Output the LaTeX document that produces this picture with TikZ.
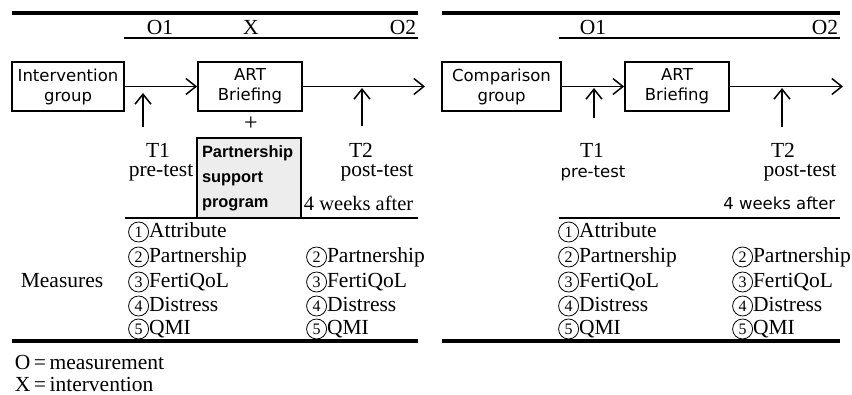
\documentclass[tikz,border=0pt]{standalone}
\usepackage{fontspec}
\setmainfont{Liberation Serif}
\setsansfont{DejaVu Sans}
\newfontfamily\boldsans{Liberation Sans}
\usetikzlibrary{arrows.meta}
\newcommand{\cnum}[1]{\tikz[baseline=(cnumNode.base)]\node[draw, circle, line width=.8pt, inner sep=0pt, minimum size=20pt, font=\fontsize{16}{16}\selectfont] (cnumNode) {#1};}
\begin{document}
\begin{tikzpicture}[x=1pt, y=-1pt, line width=1.5pt,
	every node/.style={inner sep=0pt},
	serifText/.style={font=\fontsize{21.5}{24}\selectfont},
	sansText/.style={font=\sffamily\fontsize{16.5}{20}\selectfont},
	groupBox/.style={draw, line width=1.8pt, minimum height=49pt, align=center, font=\sffamily\fontsize{16.5}{20}\selectfont},
	item/.style={anchor=west, font=\fontsize{21.5}{24}\selectfont},
	thickRule/.style={line width=4pt},
	thinRule/.style={line width=1.7pt},
	flow/.style={-{Straight Barb[length=10pt,width=16pt]}, line width=1.5pt}]
	\useasboundingbox (0,0) rectangle (852,395);
	% intervention group
	\draw[thickRule] (12,13) -- (418,13);
	\draw[thinRule] (124,38) -- (418,38);
	\node[serifText] (oneA) at (160,27) {O1};
	\node[serifText] (xA) at (251,27) {X};
	\node[serifText] (twoA) at (403,27) {O2};
	\node[groupBox, minimum width=112pt] (interv) at (68,86.5) {Intervention\\group};
	\node[groupBox, minimum width=104pt] (artA) at (250,86.5) {ART\\Briefing};
	\coordinate (outA) at (425,86.5);
	\draw[flow] (interv.east) -- (artA.west);
	\draw[flow] (artA.east) -- (outA);
	\coordinate (tOneA) at (143,127);
	\coordinate (tOneTipA) at (143,93);
	\coordinate (tTwoA) at (362,126);
	\coordinate (tTwoTipA) at (362,88);
	\draw[flow] (tOneA) -- (tOneTipA);
	\draw[flow] (tTwoA) -- (tTwoTipA);
	\node[font=\fontsize{24}{24}\selectfont] (plusA) at (251,124) {+};
	\node[draw, line width=1.8pt, fill=black!7, minimum height=80pt, text width=94pt, inner xsep=5pt, align=left, font=\boldsans\bfseries\fontsize{16.4}{25}\selectfont] (support) at (249,178) {Partnership\\support\\program};
	\node[serifText] (tOneTextA) at (158,150) {T1};
	\node[serifText] (preA) at (161,173) {pre-test};
	\node[serifText] (tTwoTextA) at (361,150) {T2};
	\node[serifText] (postA) at (377,173) {post-test};
	\node[font=\fontsize{20.5}{24}\selectfont, anchor=east] (weeksA) at (414,203) {4 weeks after};
	\draw[thinRule] (125,218) -- (418,218);
	\node[serifText] (measures) at (62,281) {Measures};
	\node[item] (attrA) at (128,232) {\cnum{1}Attribute};
	\node[item] (partA) at (128,257) {\cnum{2}Partnership};
	\node[item] (fertA) at (128,282) {\cnum{3}FertiQoL};
	\node[item] (distA) at (128,306) {\cnum{4}Distress};
	\node[item] (qmiA) at (128,329) {\cnum{5}QMI};
	\node[item] (partB) at (306,257) {\cnum{2}Partnership};
	\node[item] (fertB) at (306,282) {\cnum{3}FertiQoL};
	\node[item] (distB) at (306,306) {\cnum{4}Distress};
	\node[item] (qmiB) at (306,329) {\cnum{5}QMI};
	\draw[thickRule] (12,341) -- (418,341);
	\node[item] (legendO) at (14,362) {O\,=\,measurement};
	\node[item] (legendX) at (14,384) {X\,=\,intervention};
	% comparison group
	\draw[thickRule] (442,13) -- (840,13);
	\draw[thinRule] (559,38) -- (840,38);
	\node[serifText] (oneB) at (593,27) {O1};
	\node[serifText] (twoB) at (825,27) {O2};
	\node[groupBox, minimum width=119pt] (compar) at (501.5,86.5) {Comparison\\group};
	\node[groupBox, minimum width=104pt] (artB) at (677,86.5) {ART\\Briefing};
	\coordinate (outB) at (843,86.5);
	\draw[flow] (compar.east) -- (artB.west);
	\draw[flow] (artB.east) -- (outB);
	\coordinate (tOneB) at (594,118);
	\coordinate (tOneTipB) at (594,88);
	\coordinate (tTwoB) at (782,127);
	\coordinate (tTwoTipB) at (782,88);
	\draw[flow] (tOneB) -- (tOneTipB);
	\draw[flow] (tTwoB) -- (tTwoTipB);
	\node[serifText] (tOneTextB) at (592,150) {T1};
	\node[sansText] (preB) at (593,173) {pre-test};
	\node[serifText] (tTwoTextB) at (783,150) {T2};
	\node[serifText] (postB) at (800,173) {post-test};
	\node[sansText, anchor=east] (weeksB) at (836,203) {4 weeks after};
	\draw[thinRule] (559,218) -- (840,218);
	\node[item] (attrC) at (558,232) {\cnum{1}Attribute};
	\node[item] (partC) at (558,257) {\cnum{2}Partnership};
	\node[item] (fertC) at (558,282) {\cnum{3}FertiQoL};
	\node[item] (distC) at (558,306) {\cnum{4}Distress};
	\node[item] (qmiC) at (558,329) {\cnum{5}QMI};
	\node[item] (partD) at (732,257) {\cnum{2}Partnership};
	\node[item] (fertD) at (732,282) {\cnum{3}FertiQoL};
	\node[item] (distD) at (732,306) {\cnum{4}Distress};
	\node[item] (qmiD) at (732,329) {\cnum{5}QMI};
	\draw[thickRule] (442,341) -- (840,341);
\end{tikzpicture}
\end{document}
